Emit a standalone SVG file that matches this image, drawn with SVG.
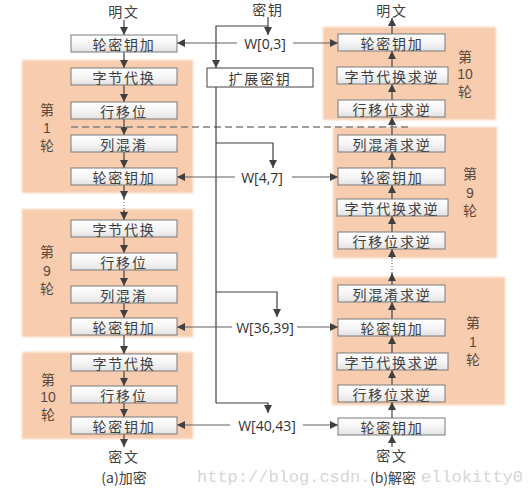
<svg xmlns="http://www.w3.org/2000/svg" width="531" height="491" viewBox="0 0 531 491">
<defs>
<linearGradient id="bx" x1="0" y1="0" x2="0" y2="1">
<stop offset="0" stop-color="#ffffff"/>
<stop offset="0.5" stop-color="#f6f6f6"/>
<stop offset="1" stop-color="#e2e2e2"/>
</linearGradient>
<filter id="soft" x="-5%" y="-5%" width="110%" height="110%">
<feGaussianBlur stdDeviation="1.2"/>
</filter>
<marker id="ah" viewBox="0 0 8 8" refX="8" refY="4" markerWidth="8" markerHeight="8" markerUnits="userSpaceOnUse" orient="auto">
<path d="M0,0 L8,4 L0,8 z" fill="#404040"/>
</marker>
</defs>
<style>
.panel{fill:#f8cdaf;filter:url(#soft)}
.box{fill:url(#bx);stroke:#7a7a7a;stroke-width:1}
.t{font-family:"Noto Sans CJK SC","Liberation Sans",sans-serif;font-size:14px;fill:#404040;text-anchor:middle;dominant-baseline:central;letter-spacing:1.8px}
.rl{font-family:"Liberation Sans","Noto Sans CJK SC",sans-serif;font-size:14px;fill:#5a4a3e;text-anchor:middle;dominant-baseline:central}
.w{font-family:"Open Sans","Liberation Sans",sans-serif;font-size:14px;fill:#303030;text-anchor:middle;dominant-baseline:central}
.ln{fill:none;stroke:#404040;stroke-width:1.2}
.arr{fill:none;stroke:#404040;stroke-width:1.2;marker-end:url(#ah)}
.arg{fill:none;stroke:#606060;stroke-width:1.2;marker-end:url(#ah)}
.dot{fill:none;stroke:#606060;stroke-width:1;stroke-dasharray:1 2}
.wm{font-family:"Liberation Mono",monospace;font-size:17px;fill:#d6d6d6}
</style>

<!-- panels -->
<g id="panels">
<rect class="panel" x="22" y="60" width="171" height="133"/>
<rect class="panel" x="22" y="209" width="171" height="128"/>
<rect class="panel" x="22" y="352" width="171" height="87"/>
<rect class="panel" x="323" y="27" width="173" height="93"/>
<rect class="panel" x="333" y="127" width="164" height="131"/>
<rect class="panel" x="332" y="277" width="173" height="128"/>
</g>

<!-- watermark (partly hidden behind the caption) -->
<text class="wm" x="197" y="482">http://blog.csdn.</text>
<text class="wm" x="421" y="482">ellokitty0</text>

<!-- connectors -->
<g id="connectors">
<!-- left column -->
<line class="arr" x1="124" y1="20" x2="124" y2="35"/>
<line class="arr" x1="124" y1="52" x2="124" y2="68"/>
<line class="arr" x1="124" y1="85" x2="124" y2="102"/>
<line class="arr" x1="124" y1="119" x2="124" y2="135"/>
<line class="arr" x1="124" y1="152" x2="124" y2="168"/>
<line class="arr" x1="124" y1="185" x2="124" y2="199"/>
<line class="dot" x1="124" y1="199" x2="124" y2="212"/>
<line class="arr" x1="124" y1="210" x2="124" y2="220"/>
<line class="arr" x1="124" y1="237" x2="124" y2="253"/>
<line class="arr" x1="124" y1="270" x2="124" y2="286"/>
<line class="arr" x1="124" y1="303" x2="124" y2="318"/>
<line class="arr" x1="124" y1="335" x2="124" y2="354"/>
<line class="arr" x1="124" y1="371" x2="124" y2="386"/>
<line class="arr" x1="124" y1="403" x2="124" y2="417"/>
<line class="arr" x1="124" y1="434" x2="124" y2="447"/>
<!-- right column -->
<line class="arr" x1="392" y1="34" x2="392" y2="18"/>
<line class="arr" x1="392" y1="67" x2="392" y2="51"/>
<line class="arr" x1="392" y1="100" x2="392" y2="84"/>
<line class="arr" x1="392" y1="135" x2="392" y2="117"/>
<line class="arr" x1="392" y1="168" x2="392" y2="152"/>
<line class="arr" x1="392" y1="199" x2="392" y2="185"/>
<line class="arr" x1="392" y1="232" x2="392" y2="216"/>
<line class="arr" x1="392" y1="285" x2="392" y2="273"/>
<line class="dot" x1="392" y1="273" x2="392" y2="257"/>
<line class="arr" x1="392" y1="259" x2="392" y2="249"/>
<line class="arr" x1="392" y1="319" x2="392" y2="302"/>
<line class="arr" x1="392" y1="353" x2="392" y2="336"/>
<line class="arr" x1="392" y1="385" x2="392" y2="370"/>
<line class="arr" x1="392" y1="418" x2="392" y2="402"/>
<line class="arr" x1="392" y1="447" x2="392" y2="435"/>
<!-- dashed round separator -->
<line x1="71" y1="127" x2="412" y2="127" stroke="#808080" stroke-width="1.5" stroke-dasharray="7 4"/>
<!-- key schedule -->
<line class="arr" x1="268" y1="17" x2="268" y2="35"/>
<polyline class="arr" points="268,26 216,26 216,68"/>
<line class="ln" x1="216" y1="87" x2="216" y2="403"/>
<polyline class="arr" points="216,143 273,143 273,168"/>
<polyline class="arr" points="216,292 277,292 277,317"/>
<polyline class="arr" points="216,403 268,403 268,413"/>
<!-- round key distribution -->
<line class="arg" x1="237" y1="43" x2="177" y2="43"/>
<line class="arg" x1="293" y1="43" x2="338" y2="43"/>
<line class="arg" x1="235" y1="177" x2="177" y2="177"/>
<line class="arg" x1="292" y1="177" x2="338" y2="177"/>
<line class="arg" x1="232" y1="327" x2="177" y2="327"/>
<line class="arg" x1="297" y1="327" x2="338" y2="327"/>
<line class="arg" x1="230" y1="425" x2="177" y2="425"/>
<line class="arg" x1="303" y1="425" x2="338" y2="425"/>
</g>

<!-- left column nodes (encryption) -->
<g id="enc-add0"><rect class="box" x="71" y="35" width="106" height="17"/><text class="t" x="124" y="43.5">轮密钥加</text></g>
<g id="enc-r1-sub"><rect class="box" x="71" y="68" width="106" height="17"/><text class="t" x="124" y="76.5">字节代换</text></g>
<g id="enc-r1-shift"><rect class="box" x="71" y="102" width="106" height="17"/><text class="t" x="124" y="110.5">行移位</text></g>
<g id="enc-r1-mix"><rect class="box" x="71" y="135" width="106" height="17"/><text class="t" x="124" y="143.5">列混淆</text></g>
<g id="enc-r1-add"><rect class="box" x="71" y="168" width="106" height="17"/><text class="t" x="124" y="176.5">轮密钥加</text></g>
<g id="enc-r9-sub"><rect class="box" x="71" y="220" width="106" height="17"/><text class="t" x="124" y="228.5">字节代换</text></g>
<g id="enc-r9-shift"><rect class="box" x="71" y="253" width="106" height="17"/><text class="t" x="124" y="261.5">行移位</text></g>
<g id="enc-r9-mix"><rect class="box" x="71" y="286" width="106" height="17"/><text class="t" x="124" y="294.5">列混淆</text></g>
<g id="enc-r9-add"><rect class="box" x="71" y="318" width="106" height="17"/><text class="t" x="124" y="326.5">轮密钥加</text></g>
<g id="enc-r10-sub"><rect class="box" x="71" y="354" width="106" height="17"/><text class="t" x="124" y="362.5">字节代换</text></g>
<g id="enc-r10-shift"><rect class="box" x="71" y="386" width="106" height="17"/><text class="t" x="124" y="394.5">行移位</text></g>
<g id="enc-r10-add"><rect class="box" x="71" y="417" width="106" height="17"/><text class="t" x="124" y="425.5">轮密钥加</text></g>

<!-- key expansion -->
<g id="keyexp"><rect x="207" y="68" width="106" height="19" fill="#ffffff" stroke="#404040" stroke-width="1"/><text class="t" x="260" y="77.5">扩展密钥</text></g>

<!-- right column nodes (decryption) -->
<g id="dec-r10-add"><rect class="box" x="338" y="34" width="107" height="17"/><text class="t" x="392" y="42.5">轮密钥加</text></g>
<g id="dec-r10-sub"><rect class="box" x="337" y="67" width="111" height="17"/><text class="t" x="392" y="75.5">字节代换求逆</text></g>
<g id="dec-r10-shift"><rect class="box" x="338" y="100" width="107" height="17"/><text class="t" x="392" y="108.5">行移位求逆</text></g>
<g id="dec-r9-mix"><rect class="box" x="338" y="135" width="107" height="17"/><text class="t" x="392" y="143.5">列混淆求逆</text></g>
<g id="dec-r9-add"><rect class="box" x="338" y="168" width="107" height="17"/><text class="t" x="392" y="176.5">轮密钥加</text></g>
<g id="dec-r9-sub"><rect class="box" x="337" y="199" width="111" height="17"/><text class="t" x="392" y="207.5">字节代换求逆</text></g>
<g id="dec-r9-shift"><rect class="box" x="338" y="232" width="107" height="17"/><text class="t" x="392" y="240.5">行移位求逆</text></g>
<g id="dec-r1-mix"><rect class="box" x="338" y="285" width="107" height="17"/><text class="t" x="392" y="293.5">列混淆求逆</text></g>
<g id="dec-r1-add"><rect class="box" x="338" y="319" width="107" height="17"/><text class="t" x="392" y="327.5">轮密钥加</text></g>
<g id="dec-r1-sub"><rect class="box" x="337" y="353" width="111" height="17"/><text class="t" x="392" y="361.5">字节代换求逆</text></g>
<g id="dec-r1-shift"><rect class="box" x="338" y="385" width="107" height="17"/><text class="t" x="392" y="393.5">行移位求逆</text></g>
<g id="dec-add0"><rect class="box" x="338" y="418" width="107" height="17"/><text class="t" x="392" y="426.5">轮密钥加</text></g>

<!-- labels -->
<g id="labels">
<text class="t" x="124" y="11">明文</text>
<text class="t" x="268" y="9">密钥</text>
<text class="t" x="392" y="10">明文</text>
<text class="t" x="124" y="456">密文</text>
<text class="t" x="392" y="455">密文</text>
<text class="t" x="124" y="477" style="letter-spacing:0">(a)加密</text>
<text class="t" x="393" y="477" style="letter-spacing:0">(b)解密</text>
<text class="w" x="265" y="43">W[0,3]</text>
<text class="w" x="262" y="177">W[4,7]</text>
<text class="w" x="265" y="327">W[36,39]</text>
<text class="w" x="267" y="425">W[40,43]</text>
<text class="rl" x="47" y="110">第</text><text class="rl" x="47" y="128">1</text><text class="rl" x="47" y="146">轮</text>
<text class="rl" x="47" y="252">第</text><text class="rl" x="47" y="271">9</text><text class="rl" x="47" y="289">轮</text>
<text class="rl" x="48" y="380">第</text><text class="rl" x="48" y="397">10</text><text class="rl" x="48" y="415">轮</text>
<text class="rl" x="465" y="57">第</text><text class="rl" x="465" y="74">10</text><text class="rl" x="465" y="92">轮</text>
<text class="rl" x="470" y="174">第</text><text class="rl" x="470" y="193">9</text><text class="rl" x="470" y="211">轮</text>
<text class="rl" x="473" y="323">第</text><text class="rl" x="473" y="342">1</text><text class="rl" x="473" y="360">轮</text>
</g>
</svg>
